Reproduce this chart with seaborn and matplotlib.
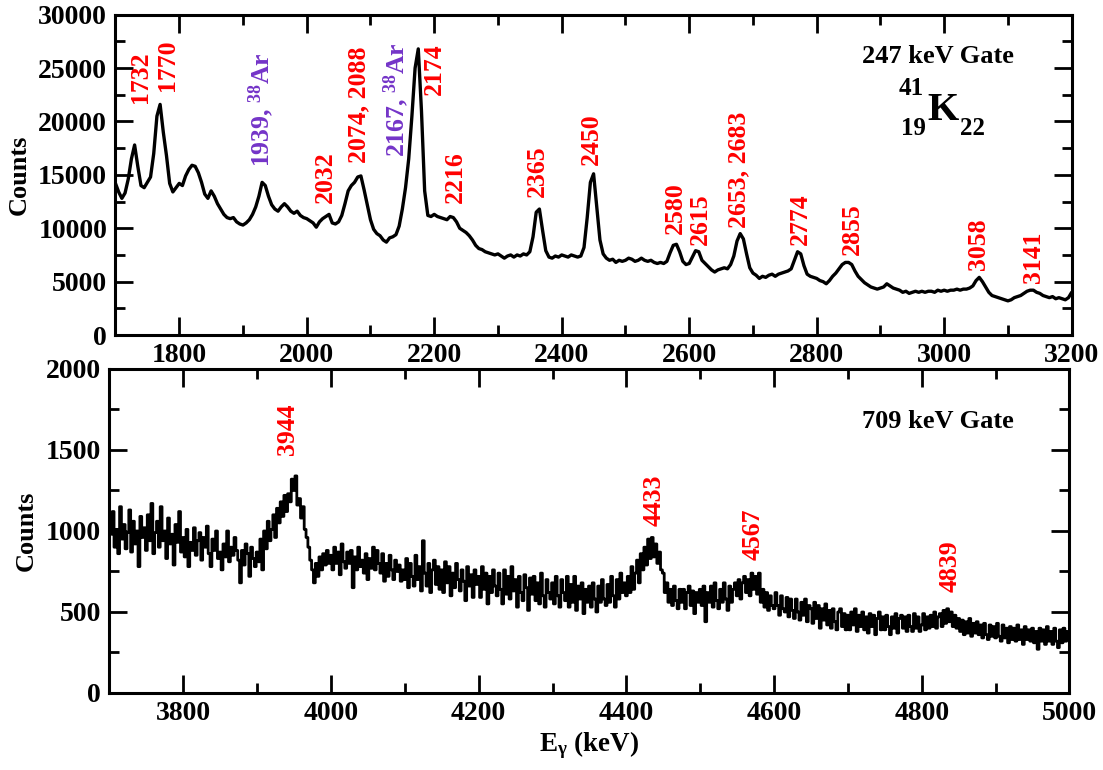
import numpy as np
import pandas as pd
import matplotlib
matplotlib.use("Agg")
import matplotlib.pyplot as plt
from matplotlib.ticker import MultipleLocator
import seaborn as sns

# 247 keV gate spectrum, 5 keV bins from 1700 to 3200 keV
energy_top = np.arange(1700, 3201, 5)
counts_top = [
    14200, 13400, 12800, 13300, 14600, 16500, 17800, 15800, 14000, 13800,
    14300, 14800, 17000, 20500, 21600, 19000, 16800, 14200, 13400, 13800,
    14200, 14000, 14900, 15500, 15900, 15800, 15200, 14300, 13200, 12800,
    13500, 13000, 12300, 11800, 11300, 11000, 10900, 11000, 10600, 10400,
    10300, 10500, 10800, 11300, 12000, 13000, 14300, 14000, 13000, 12200,
    11800, 11600, 12000, 12300, 12000, 11600, 11400, 11600, 11200, 11000,
    10900, 10700, 10500, 10100, 10600, 10900, 11100, 11300, 10500, 10400,
    10600, 11200, 12300, 13500, 14000, 14300, 14800, 14900, 13600, 12200,
    10800, 9900, 9500, 9300, 8900, 8700, 9100, 9200, 9400, 10200,
    11800, 13800, 16500, 20500, 25000, 26800, 21000, 13500, 11200, 11100,
    11300, 11100, 11000, 10900, 10800, 11100, 11000, 10600, 10000, 9800,
    9600, 9300, 8900, 8400, 8100, 8000, 7800, 7700, 7600, 7500,
    7600, 7400, 7200, 7400, 7500, 7300, 7500, 7400, 7600, 7500,
    7800, 9200, 11500, 11800, 9800, 7900, 7300, 7200, 7400, 7300,
    7500, 7400, 7300, 7500, 7400, 7300, 7400, 8200, 11000, 14300,
    15100, 12000, 8900, 7600, 7200, 7000, 7100, 6800, 7000, 6900,
    7000, 7200, 7100, 6900, 7000, 7200, 7000, 6900, 7000, 6800,
    6700, 6800, 6700, 6900, 7700, 8400, 8500, 7800, 6900, 6600,
    6700, 7300, 7900, 7800, 7000, 6700, 6400, 6100, 5900, 6100,
    6200, 6300, 6200, 6600, 7400, 8800, 9500, 9000, 7600, 6300,
    5800, 5600, 5300, 5500, 5400, 5600, 5700, 5500, 5700, 5800,
    5900, 6000, 6200, 7000, 7800, 7600, 6500, 5700, 5500, 5400,
    5300, 5100, 5000, 4800, 5100, 5500, 5800, 6200, 6600, 6800,
    6800, 6600, 6000, 5500, 5200, 4900, 4700, 4500, 4400, 4300,
    4400, 4500, 4800, 4600, 4400, 4300, 4200, 4000, 4100, 3900,
    4000, 4100, 4000, 4100, 4000, 4100, 4100, 4000, 4200, 4100,
    4200, 4100, 4200, 4200, 4300, 4200, 4300, 4300, 4400, 4600,
    5100, 5400, 5000, 4500, 4000, 3700, 3600, 3500, 3400, 3300,
    3200, 3300, 3500, 3600, 3700, 3900, 4100, 4200, 4200, 4000,
    3900, 3700, 3600, 3500, 3600, 3400, 3500, 3400, 3300, 3500,
    4000,
]

# 709 keV gate spectrum, 2.5 keV bins from 3700 to 5000 keV
energy_bot = np.arange(3700, 5000.1, 2.5)
counts_bot = [
    1050, 980, 1120, 900, 1010, 860, 1150, 950, 1040, 890,
    990, 1130, 870, 1060, 920, 1000, 780, 1090, 960, 1020,
    880, 1100, 940, 1170, 860, 990, 1060, 900, 1150, 940,
    1000, 830, 1080, 920, 980, 790, 1040, 930, 1120, 870,
    960, 840, 1010, 780, 930, 880, 1020, 850, 940, 990,
    820, 960, 900, 1030, 860, 780, 950, 880, 1000, 830,
    870, 760, 920, 840, 1000, 810, 900, 850, 960, 880,
    820, 680, 880, 790, 920, 860, 720, 900, 830, 780,
    870, 810, 950, 760, 1000, 890, 1060, 940, 1010, 1100,
    960, 1140, 1050, 1180, 1090, 1220, 1120, 1230, 1180, 1320,
    1250, 1340, 1160, 1200, 1080, 1150, 1010, 960, 900, 820,
    760, 680, 800, 720, 840, 760, 860, 790, 880, 800,
    850, 760, 900, 800, 870, 730, 920, 810, 770, 870,
    800, 880, 650, 840, 760, 900, 780, 820, 740, 860,
    700, 830, 770, 900, 760, 880, 800, 740, 860, 690,
    800, 720, 850, 760, 700, 820, 750, 790, 690, 760,
    700, 830, 650, 800, 720, 660, 850, 700, 780, 630,
    940, 740, 660, 800, 620, 760, 820, 670, 780, 640,
    760, 620, 810, 680, 780, 600, 740, 650, 800, 700,
    630, 760, 690, 570, 780, 660, 730, 590, 760, 670,
    720, 590, 780, 640, 740, 550, 720, 620, 760, 660,
    600, 740, 640, 550, 760, 610, 720, 580, 780, 630,
    700, 530, 720, 620, 570, 730, 650, 510, 710, 610,
    720, 570, 680, 550, 740, 600, 530, 700, 620, 580,
    680, 550, 720, 600, 530, 700, 620, 570, 720, 530,
    670, 560, 720, 510, 660, 580, 680, 490, 640, 560,
    660, 530, 680, 580, 500, 660, 560, 700, 580, 540,
    670, 560, 720, 600, 530, 700, 580, 740, 620, 680,
    600, 720, 620, 780, 640, 740, 820, 680, 860, 760,
    900, 790, 950, 830, 960, 840, 920, 800, 870, 760,
    740, 620, 680, 560, 640, 540, 660, 570, 520, 640,
    560, 640, 520, 620, 660, 540, 630, 490, 620, 560,
    640, 540, 660, 440, 620, 560, 660, 530, 680, 570,
    520, 640, 560, 680, 580, 510, 660, 560, 640, 680,
    600, 700, 580, 680, 720, 620, 700, 600, 740, 640,
    720, 610, 740, 560, 640, 530, 620, 510, 600, 540,
    520, 620, 540, 480, 600, 520, 500, 590, 470, 580,
    510, 460, 580, 500, 450, 560, 480, 580, 440, 540,
    520, 430, 560, 460, 540, 400, 520, 450, 550, 420,
    510, 400, 520, 440, 390, 500, 520, 410, 490, 390,
    480, 390, 500, 420, 520, 380, 480, 410, 500, 390,
    470, 370, 490, 410, 480, 360, 460, 500, 390, 470,
    390, 480, 410, 360, 470, 400, 490, 370, 460, 480,
    400, 470, 380, 480, 410, 380, 490, 400, 470, 380,
    420, 490, 390, 470, 400, 480, 410, 500, 400, 470,
    490, 410, 510, 430, 520, 440, 500, 410, 480, 400,
    460, 380, 450, 360, 440, 370, 460, 350, 430, 370,
    440, 360, 420, 340, 430, 360, 330, 420, 350, 410,
    340, 430, 350, 320, 420, 340, 400, 310, 410, 330,
    400, 320, 420, 330, 390, 300, 410, 330, 390, 320,
    400, 310, 380, 270, 400, 320, 390, 300, 410, 320,
    380, 300, 400, 320, 280, 390, 310, 400, 320, 380,
    340,
]

# peak labels: text, energy position, count position, colour key
top_labels = ["1732", "1770", "1939, $^{\\mathrm{38}}$Ar", "2032", "2074, 2088",
              "2167, $^{\\mathrm{38}}$Ar", "2174", "2216", "2365", "2450", "2580",
              "2615", "2653, 2683", "2774", "2855", "3058", "3141"]
top_label_x = [1740, 1782, 1928, 2029, 2082, 2140, 2200, 2233, 2362, 2447,
               2579, 2618, 2678, 2774, 2856, 3054, 3140]
top_label_y = [21700, 22900, 15700, 12400, 16100, 16700, 22500, 12400, 12900,
               15900, 9500, 8400, 10000, 8400, 7500, 6100, 4900]
top_label_kind = ["k", "k", "ar", "k", "k", "ar", "k", "k", "k", "k", "k",
                  "k", "k", "k", "k", "k", "k"]

bot_labels = ["3944", "4433", "4567", "4839"]
bot_label_x = [3941, 4437, 4572, 4839]
bot_label_y = [1470, 1030, 820, 625]

RED = "#ff0000"
PURPLE = "#7434c8"

sns.set_theme(style="ticks")
plt.rcParams["font.family"] = ["Liberation Serif", "DejaVu Serif"]
plt.rcParams["font.weight"] = "bold"
plt.rcParams["axes.labelweight"] = "bold"
plt.rcParams["text.color"] = "black"
plt.rcParams["axes.labelcolor"] = "black"
plt.rcParams["xtick.color"] = "black"
plt.rcParams["ytick.color"] = "black"
plt.rcParams["mathtext.fontset"] = "custom"
plt.rcParams["mathtext.rm"] = "Liberation Serif:bold"
plt.rcParams["mathtext.it"] = "Liberation Serif:bold:italic"
plt.rcParams["mathtext.bf"] = "Liberation Serif:bold"

top_df = pd.DataFrame({"energy": energy_top, "counts": counts_top})
bot_df = pd.DataFrame({"energy": energy_bot, "counts": counts_bot})

fig = plt.figure(figsize=(11.03, 7.7), dpi=100)
ax1 = fig.add_axes([0.1047, 0.5649, 0.8669, 0.416])
ax2 = fig.add_axes([0.0992, 0.1, 0.8704, 0.4208])

sns.lineplot(data=top_df, x="energy", y="counts", ax=ax1, color="black",
             lw=2.4, estimator=None)
sns.lineplot(data=bot_df, x="energy", y="counts", ax=ax2, color="black",
             lw=2.0, drawstyle="steps-mid", estimator=None)

for ax in (ax1, ax2):
    for sp in ax.spines.values():
        sp.set_visible(True)
        sp.set_linewidth(2.2)
        sp.set_color("black")
    ax.tick_params(which="both", direction="in", top=True, right=True,
                   width=2, colors="black", labelsize=20, pad=6)
    ax.tick_params(which="major", length=13)
    ax.tick_params(which="minor", length=7)

ax1.set_xlim(1700, 3200)
ax1.set_ylim(0, 30000)
ax1.set_xticks(np.arange(1800, 3201, 200))
ax1.set_yticks(np.arange(0, 30001, 5000))
ax1.xaxis.set_minor_locator(MultipleLocator(100))
ax1.yaxis.set_minor_locator(MultipleLocator(2500))
ax1.set_xlabel("")
ax1.set_ylabel("Counts", fontsize=19, fontweight="bold", color="black")
ax1.yaxis.set_label_coords(-0.089, 0.5)

ax2.set_xlim(3700, 5000)
ax2.set_ylim(0, 2000)
ax2.set_xticks(np.arange(3800, 5001, 200))
ax2.set_yticks(np.arange(0, 2001, 500))
ax2.xaxis.set_minor_locator(MultipleLocator(100))
ax2.yaxis.set_minor_locator(MultipleLocator(250))
ax2.set_xlabel("E$_{\\mathrm{\\gamma}}$ (keV)", fontsize=19.5,
               fontweight="bold", color="black")
ax2.xaxis.set_label_coords(0.5, -0.112)
ax2.set_ylabel("Counts", fontsize=19, fontweight="bold", color="black")
ax2.yaxis.set_label_coords(-0.075, 0.5)

for ax in (ax1, ax2):
    for lab in ax.get_xticklabels() + ax.get_yticklabels():
        lab.set_fontweight("bold")
        lab.set_color("black")

for s, x, y, kind in zip(top_labels, top_label_x, top_label_y, top_label_kind):
    ax1.text(x, y, s, rotation=90, ha="center", va="bottom", fontsize=18.5,
             fontweight="bold", color=PURPLE if kind == "ar" else RED)

for s, x, y in zip(bot_labels, bot_label_x, bot_label_y):
    ax2.text(x, y, s, rotation=90, ha="center", va="bottom", fontsize=18.5,
             fontweight="bold", color=RED)

ax1.text(0.86, 0.849, "247 keV Gate", transform=ax1.transAxes, ha="center",
         va="baseline", fontsize=19, fontweight="bold", color="black")
ax1.text(0.865, 0.671, "K", transform=ax1.transAxes, ha="center",
         va="baseline", fontsize=29, fontweight="bold", color="black")
ax1.text(0.832, 0.749, "41", transform=ax1.transAxes, ha="center",
         va="baseline", fontsize=18, fontweight="bold", color="black")
ax1.text(0.834, 0.624, "19", transform=ax1.transAxes, ha="center",
         va="baseline", fontsize=18, fontweight="bold", color="black")
ax1.text(0.896, 0.624, "22", transform=ax1.transAxes, ha="center",
         va="baseline", fontsize=18, fontweight="bold", color="black")

ax2.text(0.863, 0.818, "709 keV Gate", transform=ax2.transAxes, ha="center",
         va="baseline", fontsize=19, fontweight="bold", color="black")

fig.savefig("out.png", dpi=100)
